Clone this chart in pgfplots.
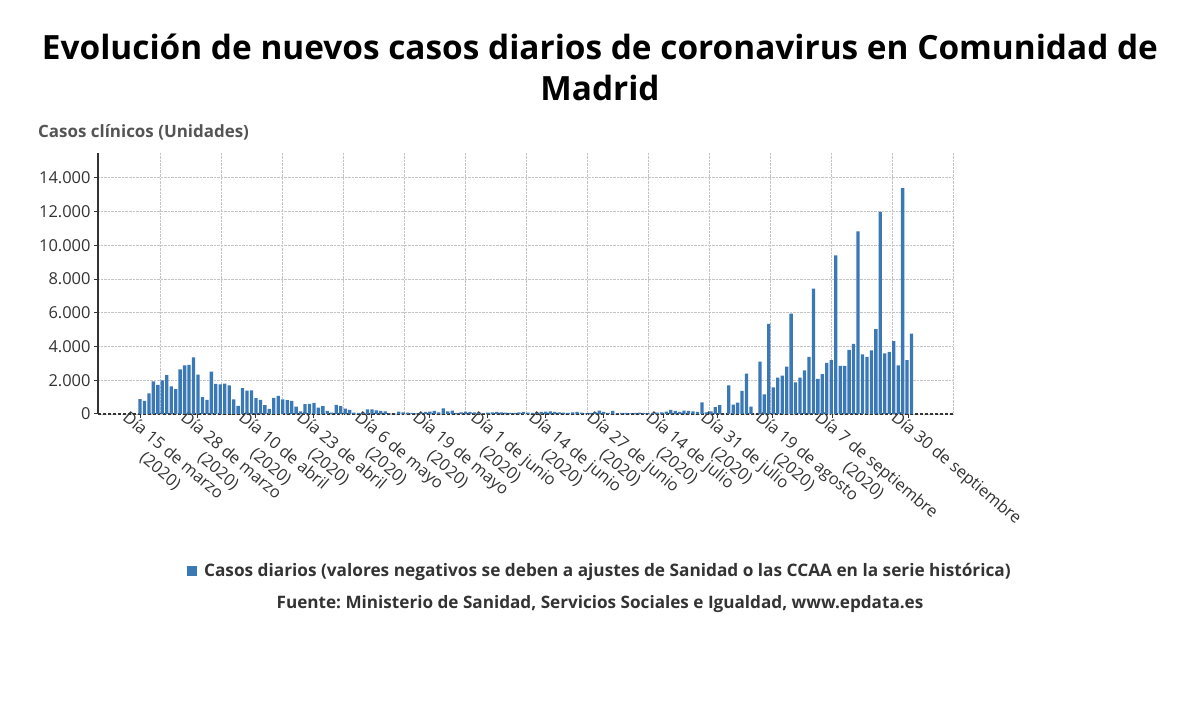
\documentclass[border=0pt]{standalone}
\usepackage{pgfplots}
\usepackage{pgfplotstable}
\pgfplotsset{compat=1.18}
\usepackage{fontspec}
\setmainfont{Open Sans}
\frenchspacing
\definecolor{barblue}{HTML}{3A78B6}
\definecolor{txt}{HTML}{333333}
\definecolor{gridc}{HTML}{C4C4C4}
\pgfplotstableread{
x y
0 880
1 780
2 1220
3 1940
4 1720
5 2000
6 2300
7 1640
8 1480
9 2640
10 2880
11 2920
12 3360
13 2340
14 1000
15 840
16 2520
17 1780
18 1760
19 1800
20 1700
21 860
22 480
23 1540
24 1380
25 1400
26 940
27 840
28 520
29 300
30 960
31 1080
32 860
33 820
34 780
35 440
36 160
37 580
38 600
39 660
40 380
41 460
42 180
43 80
44 540
45 460
46 320
47 240
48 80
49 60
50 60
51 280
52 280
53 220
54 180
55 160
56 40
57 20
58 140
59 100
60 80
61 60
62 40
63 60
64 120
65 140
66 180
67 100
68 340
69 160
70 200
71 60
72 100
73 140
74 120
75 100
76 60
77 40
78 80
79 100
80 120
81 100
82 80
83 60
84 60
85 100
86 120
87 80
88 60
89 40
90 120
91 140
92 160
93 120
94 100
95 80
96 60
97 100
98 120
99 80
100 40
101 60
102 100
103 200
104 120
105 60
106 180
107 40
108 60
109 60
110 40
111 60
112 80
113 60
114 40
115 60
116 80
117 100
118 140
119 240
120 180
121 120
122 200
123 180
124 160
125 120
126 690
127 100
128 160
129 400
130 530
131 0
132 1700
133 550
134 670
135 1370
136 2400
137 440
138 0
139 3110
140 1170
141 5350
142 1580
143 2160
144 2280
145 2810
146 5960
147 1880
148 2160
149 2590
150 3390
151 7430
152 2080
153 2360
154 3030
155 3190
156 9410
157 2850
158 2850
159 3800
160 4160
161 10830
162 3540
163 3390
164 3780
165 5030
166 11980
167 3600
168 3680
169 4320
170 2890
171 13400
172 3190
173 4770
}\casos
\begin{document}
\begin{tikzpicture}[x=1bp,y=1bp]
\useasboundingbox (0,0) rectangle (1200,705);
\node[font=\bfseries\fontsize{33.5}{38}\selectfont, text=black] at (600,705-47) {Evolución de nuevos casos diarios de coronavirus en Comunidad de};
\node[font=\bfseries\fontsize{33.5}{38}\selectfont, text=black] at (600,705-88) {Madrid};
\node[font=\bfseries\fontsize{17}{20}\selectfont, text=black!67, anchor=west, inner sep=0pt] at (38,705-132) {Casos clínicos (Unidades)};
\node[font=\bfseries\fontsize{17.2}{20}\selectfont, text=txt] at (600,705-604) {Fuente: Ministerio de Sanidad, Servicios Sociales e Igualdad, www.epdata.es};
\begin{axis}[
  at={(98bp,291bp)}, anchor=south west,
  scale only axis, width=855bp, height=261bp,
  xmin=-9.42, xmax=182.3, ymin=0, ymax=15480,
  axis lines*=left,
  x axis line style={draw=txt, densely dashed, line width=1.3bp},
  y axis line style={draw=txt, line width=1.3bp},
  ytick={0,2000,...,14000},
  scaled y ticks=false,
  yticklabel style={font=\fontsize{16.5}{19}\selectfont, text=txt},
  /pgf/number format/.cd, 1000 sep={.}, assume math mode=true, /pgfplots/.cd,
  ymajorgrids=true,
  grid style={densely dotted, draw=gridc, line width=0.9bp},
  tick style={draw=txt, line width=1bp},
  major tick length=4bp,
  tick align=outside,
  xtick={0,13,26,39,52,65,78,91,104,117.3,129.6,141.9,155.2,172.3},
  xticklabels={{Día 15 de marzo\\(2020)},{Día 28 de marzo\\(2020)},{Día 10 de abril\\(2020)},{Día 23 de abril\\(2020)},{Día 6 de mayo\\(2020)},{Día 19 de mayo\\(2020)},{Día 1 de junio\\(2020)},{Día 14 de junio\\(2020)},{Día 27 de junio\\(2020)},{Día 14 de julio\\(2020)},{Día 31 de julio\\(2020)},{Día 19 de agosto\\(2020)},{Día 7 de septiembre\\(2020)},{Día 30 de septiembre}},
  xticklabel style={font=\fontsize{16.5}{20}\selectfont, text=txt, rotate=-40, anchor=north west, align=center, inner sep=1bp, xshift=-14bp, yshift=1bp},
  extra x ticks={4.48,18.16,31.84,45.52,59.2,72.88,86.56,100.24,113.92,127.6,141.28,154.96,168.64,182.3},
  extra x tick labels={},
  extra x tick style={grid=major, major tick length=0pt},
  legend style={draw=none, fill=none, at={(axis description cs:0.587,-0.6015)}, anchor=center, font=\bfseries\fontsize{17.3}{20}\selectfont, text=txt, nodes={inner sep=2bp}},
  legend image code/.code={\fill[barblue] (0bp,-5bp) rectangle (10bp,5bp);},
  clip=false,
]
\addplot[ybar, bar width=0.74, fill=barblue, draw=none] table[x=x,y=y] {\casos};
\addlegendentry{\hspace{5bp}Casos diarios (valores negativos se deben a ajustes de Sanidad o las CCAA en la serie histórica)}
\end{axis}
\end{tikzpicture}
\end{document}
